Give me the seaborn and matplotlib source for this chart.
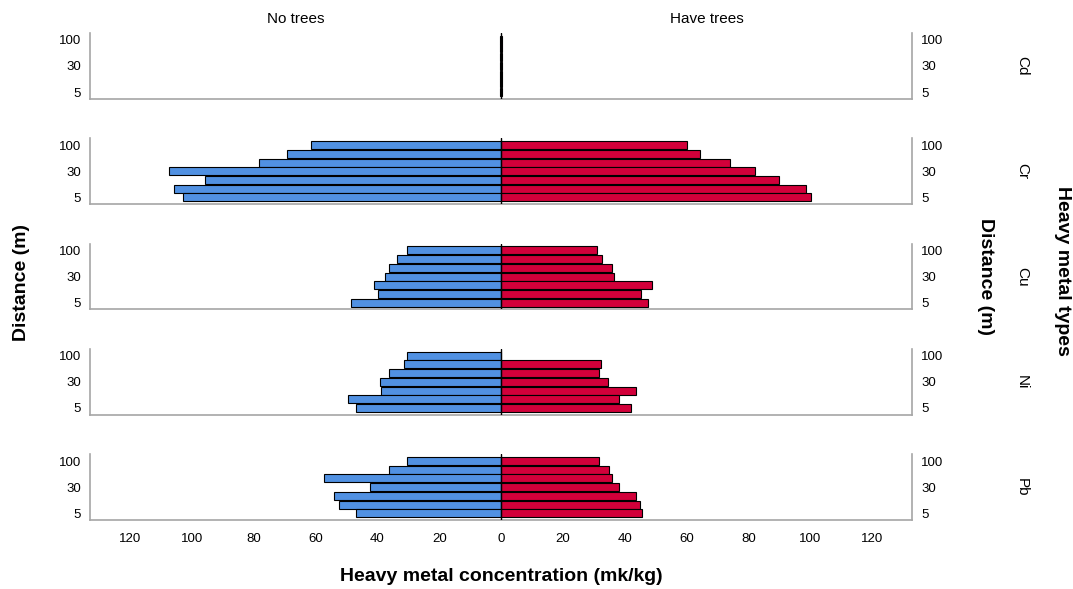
import numpy as np
import pandas as pd
import matplotlib
matplotlib.use("Agg")
import matplotlib.pyplot as plt
from matplotlib.ticker import FuncFormatter
import seaborn as sns

# Distance categories (top to bottom); only 100, 30 and 5 are labelled
distances = ['100', '70', '50', '30', '20', '10', '5']
shown_ticks = ['100', '30', '5']
metals = ['Cd', 'Cr', 'Cu', 'Ni', 'Pb']
groups = ['No trees', 'Have trees']

# Heavy metal concentration (mk/kg)
cd_no_trees = [0.3, 0.3, 0.4, 0.3, 0.3, 0.4, 0.3]
cd_have_trees = [0.3, 0.3, 0.3, 0.4, 0.3, 0.3, 0.4]
cr_no_trees = [61.5, 69.3, 78.3, 107.5, 95.7, 105.8, 102.9]
cr_have_trees = [60.3, 64.5, 74.0, 82.3, 90.1, 98.8, 100.3]
cu_no_trees = [30.3, 33.6, 36.3, 37.5, 41.2, 39.7, 48.7]
cu_have_trees = [31.2, 32.8, 36.0, 36.7, 48.7, 45.2, 47.6]
ni_no_trees = [30.3, 31.4, 36.3, 39.2, 38.9, 49.5, 47.1]
ni_have_trees = [np.nan, 32.4, 31.6, 34.7, 43.5, 38.0, 42.1]
pb_no_trees = [30.6, 36.3, 57.2, 42.4, 54.1, 52.3, 46.9]
pb_have_trees = [31.7, 35.0, 36.0, 38.0, 43.5, 45.0, 45.7]

values = {
    'Cd': (cd_no_trees, cd_have_trees),
    'Cr': (cr_no_trees, cr_have_trees),
    'Cu': (cu_no_trees, cu_have_trees),
    'Ni': (ni_no_trees, ni_have_trees),
    'Pb': (pb_no_trees, pb_have_trees),
}

# long format, "No trees" plotted to the left (negative)
rows = []
for metal in metals:
    left, right = values[metal]
    for d, v in zip(distances, left):
        rows.append({'metal': metal, 'group': 'No trees', 'distance': d, 'value': -v})
    for d, v in zip(distances, right):
        rows.append({'metal': metal, 'group': 'Have trees', 'distance': d, 'value': v})
data = pd.DataFrame(rows).dropna().reset_index(drop=True)

sns.set_style('white')
plt.rcParams['font.family'] = ['Liberation Sans', 'DejaVu Sans']
plt.rcParams['text.color'] = 'black'

palette = {'No trees': '#5191e2', 'Have trees': '#d2003a'}
spine_col = '#a6a6a6'

fig, axes = plt.subplots(5, 1, figsize=(10.73, 5.89), dpi=100, sharex=True)
fig.subplots_adjust(left=0.084, right=0.85, top=0.944, bottom=0.117, hspace=0.6)

for ax, metal in zip(axes, metals):
    sub = data[data['metal'] == metal]
    sns.barplot(ax=ax, data=sub, x='value', y='distance', hue='group',
                order=distances, hue_order=groups, palette=palette,
                saturation=1, dodge=False, orient='h', width=0.92,
                errorbar=None, edgecolor='black', linewidth=0.8, legend=False)
    ax.axvline(0, color='black', lw=1.0, zorder=5)
    ax.set_xlim(-133, 133)
    ax.set_ylim(6.78, -0.78)
    ax.set_yticks([distances.index(t) for t in shown_ticks])
    ax.set_yticklabels(shown_ticks)
    ax.tick_params(axis='y', left=False, right=False, labelleft=True,
                   labelright=True, labelsize=9.5, pad=3, colors='black')
    ax.tick_params(axis='x', bottom=False, labelbottom=False)
    ax.set_xlabel('')
    ax.set_ylabel('')
    ax.spines['top'].set_visible(False)
    for s in ['left', 'right', 'bottom']:
        ax.spines[s].set_color(spine_col)
        ax.spines[s].set_linewidth(1.2)
    ax.text(1.134, 0.5, metal, transform=ax.transAxes, rotation=-90,
            ha='center', va='center', fontsize=11, color='black')

axes[-1].set_xticks(np.arange(-120, 121, 20))
axes[-1].xaxis.set_major_formatter(FuncFormatter(lambda v, p: f'{abs(v):.0f}'))
axes[-1].tick_params(axis='x', labelbottom=True, labelsize=9.5, pad=6, colors='black')

axes[0].text(0.25, 1.22, 'No trees', transform=axes[0].transAxes,
             ha='center', va='center', fontsize=11, color='black')
axes[0].text(0.75, 1.22, 'Have trees', transform=axes[0].transAxes,
             ha='center', va='center', fontsize=11, color='black')

fig.text(0.467, 0.022, 'Heavy metal concentration (mk/kg)', ha='center',
         va='center', fontsize=14, fontweight='bold', color='black')
fig.text(0.02, 0.52, 'Distance (m)', ha='center', va='center',
         rotation=90, fontsize=14, fontweight='bold', color='black')
fig.text(0.918, 0.53, 'Distance (m)', ha='center', va='center',
         rotation=-90, fontsize=14, fontweight='bold', color='black')
fig.text(0.99, 0.54, 'Heavy metal types', ha='center', va='center',
         rotation=-90, fontsize=14, fontweight='bold', color='black')

plt.savefig('out.png', dpi=100)
